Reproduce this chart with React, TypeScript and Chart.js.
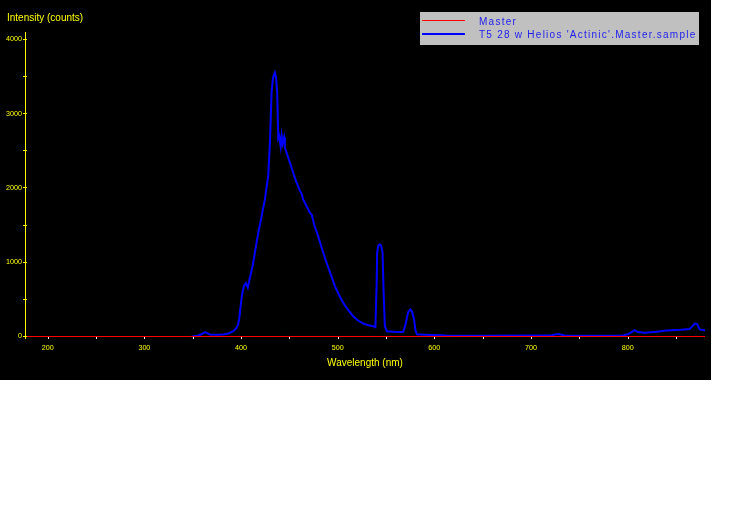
import React, { useEffect, useRef } from "react";
import { Chart, registerables } from "chart.js";

Chart.register(...registerables);

const FONT = '"Liberation Sans", Arial, sans-serif';
const YELLOW = "#ffff00";

const seriesNames = ["Master", "T5 28 w Helios 'Actinic'.Master.sample"];
const xTitle = "Wavelength (nm)";
const yTitle = "Intensity (counts)";

const xTickValues = [200, 250, 300, 350, 400, 450, 500, 550, 600, 650, 700, 750, 800, 850];
const yTickValues = [0, 500, 1000, 1500, 2000, 2500, 3000, 3500, 4000];

const masterWavelengths = [176.5, 880];
const masterValues = [0, 0];

const sampleWavelengths = [
  349, 355, 359, 362.7, 365, 367.8, 375, 381.6, 387, 392, 395, 397, 398, 399.5, 401, 403, 405, 407, 409,
  412, 416, 418.5, 421.3, 424.7, 428.1, 429.9, 431.6, 433, 435, 436.3, 437.4, 438.5, 439.5, 441, 442, 443,
  444.5, 445.4, 448, 450.6, 454, 457.5, 461, 463, 464.3, 468, 471.2, 473, 474, 475.5, 479.8, 484, 488.5,
  493, 497.1, 501.5, 505.7, 510.5, 516, 521, 526.4, 531, 536.7, 539, 540.3, 540.8, 542, 543.6, 545, 546.4,
  547.5, 548.8, 551, 560, 567.7, 570, 571.2, 573, 575.4, 577, 579, 580.5, 582, 590, 612, 650, 700, 720,
  728, 735, 760, 795, 800, 804, 807, 810.7, 817.7, 830, 840, 855, 864, 867, 869.4, 871.7, 874.5, 877, 880,
];
const sampleValues = [
  0, 10, 30, 58, 45, 27, 25, 27, 40, 72, 110, 162, 229, 400, 560, 680, 720, 660, 780,
  950, 1260, 1440, 1620, 1845, 2159, 2613, 3282, 3480, 3551, 3480, 3282, 2667, 2700, 2560, 2700, 2600,
  2680, 2541, 2440, 2339, 2200, 2070, 1960, 1910, 1845, 1750, 1666, 1640, 1600, 1510, 1351, 1170, 993,
  830, 677, 555, 454, 360, 273, 215, 175, 155, 139, 125, 700, 1127, 1220, 1239, 1220, 1127,
  600, 139, 70, 60, 60, 150, 230, 330, 365, 330, 230, 80, 30, 25, 15, 10, 12, 15,
  35, 15, 10, 15, 30, 60, 85, 60, 50, 65, 80, 90, 100, 140, 175, 170, 95, 90, 80,
];

const X_MIN = 176.5;
const X_MAX = 880;
const Y_MIN = -20.2;
const Y_MAX = 4098.2;

const decorPlugin = {
  id: "decor",
  afterDraw(chart: any) {
    const ctx = chart.ctx as CanvasRenderingContext2D;
    const xs = chart.scales.x;
    const ys = chart.scales.y;
    const area = chart.chartArea;
    ctx.save();
    // y axis tick marks crossing the axis
    ctx.strokeStyle = YELLOW;
    ctx.lineWidth = 1;
    for (const v of yTickValues) {
      const py = Math.round(ys.getPixelForValue(v) - 0.5) + 0.5;
      ctx.beginPath();
      ctx.moveTo(area.left - 2, py);
      ctx.lineTo(area.left + 2, py);
      ctx.stroke();
    }
    // x axis tick marks
    const zeroY = ys.getPixelForValue(0);
    ctx.strokeStyle = "#ffffff";
    for (const v of xTickValues) {
      const px = Math.round(xs.getPixelForValue(v)) + 0.5;
      ctx.beginPath();
      ctx.moveTo(px, zeroY + 0.5);
      ctx.lineTo(px, zeroY + 2.5);
      ctx.stroke();
    }
    // titles
    ctx.fillStyle = YELLOW;
    ctx.font = `10px ${FONT}`;
    ctx.textBaseline = "middle";
    ctx.textAlign = "left";
    ctx.fillText(yTitle, 7, 18.5);
    ctx.textAlign = "center";
    ctx.fillText(xTitle, (area.left + area.right) / 2, 363);

    // legend
    ctx.fillStyle = "#c0c0c0";
    ctx.fillRect(420, 12, 279, 33);
    ctx.strokeStyle = "#ff0000";
    ctx.lineWidth = 1;
    ctx.beginPath();
    ctx.moveTo(422, 20.5);
    ctx.lineTo(465, 20.5);
    ctx.stroke();
    ctx.strokeStyle = "#0000ff";
    ctx.lineWidth = 2;
    ctx.beginPath();
    ctx.moveTo(422, 34);
    ctx.lineTo(465, 34);
    ctx.stroke();
    ctx.fillStyle = "#1c1cf0";
    ctx.font = `10px ${FONT}`;
    ctx.textAlign = "left";
    (ctx as any).letterSpacing = "1.25px";
    ctx.fillText(seriesNames[0], 479, 22.5);
    ctx.fillText(seriesNames[1], 479, 35.5);
    ctx.restore();
  },
};

export default function App() {
  const ref = useRef<HTMLCanvasElement | null>(null);

  useEffect(() => {
    document.body.style.margin = "0";
    const canvas = ref.current;
    if (!canvas) return;
    const chart = new Chart(canvas, {
      type: "line",
      data: {
        datasets: [
          {
            label: seriesNames[0],
            data: masterWavelengths.map((x, i) => ({ x, y: masterValues[i] })),
            borderColor: "#ff0000",
            borderWidth: 1,
            pointRadius: 0,
            tension: 0,
            clip: false,
          },
          {
            label: seriesNames[1],
            data: sampleWavelengths.map((x, i) => ({ x, y: sampleValues[i] })),
            borderColor: "#0000ff",
            borderWidth: 2,
            pointRadius: 0,
            tension: 0,
            clip: false,
          },
        ],
      },
      options: {
        responsive: false,
        devicePixelRatio: 1,
        animation: false,
        layout: { padding: { top: 32, right: 6, left: 0, bottom: 0 } },
        plugins: {
          legend: { display: false },
          tooltip: { enabled: false },
        },
        scales: {
          x: {
            type: "linear",
            min: X_MIN,
            max: X_MAX,
            afterFit: (s: any) => {
              s.height = 42;
            },
            afterBuildTicks: (s: any) => {
              s.ticks = xTickValues.map((v) => ({ value: v }));
            },
            grid: { display: false, drawTicks: true, tickLength: 3 },
            border: { display: false },
            ticks: {
              color: YELLOW,
              font: { family: FONT, size: 7.2 },
              padding: 3,
              maxRotation: 0,
              autoSkip: false,
              callback: (v: any) => (Number(v) % 100 === 0 ? String(v) : ""),
            },
          },
          y: {
            type: "linear",
            min: Y_MIN,
            max: Y_MAX,
            afterFit: (s: any) => {
              s.width = 25;
            },
            afterBuildTicks: (s: any) => {
              s.ticks = yTickValues.map((v) => ({ value: v }));
            },
            grid: { display: false, drawTicks: true, tickLength: 3 },
            border: { display: true, color: YELLOW, width: 1 },
            ticks: {
              color: YELLOW,
              font: { family: FONT, size: 7.2 },
              padding: 0,
              autoSkip: false,
              callback: (v: any) => (Number(v) % 1000 === 0 ? String(v) : ""),
            },
          },
        },
      },
      plugins: [decorPlugin],
    });
    return () => chart.destroy();
  }, []);

  return (
    <div style={{ position: "absolute", left: 0, top: 0, width: 711, height: 380 }}>
      <canvas ref={ref} width={711} height={380} style={{ display: "block", background: "#000" }} />
    </div>
  );
}
